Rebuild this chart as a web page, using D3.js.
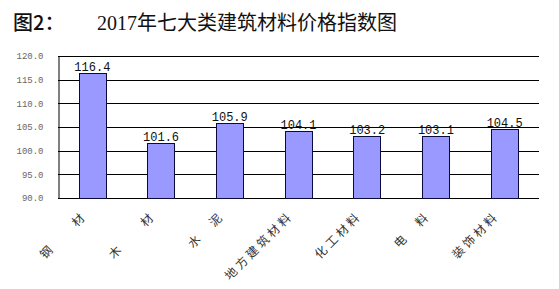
<!DOCTYPE html>
<html>
<head>
<meta charset="utf-8">
<script src="https://cdn.jsdelivr.net/npm/d3@7"></script>
<style>
  html, body { margin: 0; padding: 0; background: #fff; }
  svg { display: block; }
</style>
</head>
<body>
<svg id="chart" width="559" height="289"></svg>
<script>
// 2017 price indices of seven building-material groups
const categories = ["钢　　材", "木　　材", "水　泥", "地方建筑材料", "化工材料", "电　料", "装饰材料"];
const values = [116.4, 101.6, 105.9, 104.1, 103.2, 103.1, 104.5];
const yTicks = [90, 95, 100, 105, 110, 115, 120];
const figureLabel = "图2：";
const titleText = "2017年七大类建筑材料价格指数图";

const svg = d3.select("#chart");
const plot = { left: 58, right: 539, top: 56, bottom: 198 };

const x = d3.scaleBand()
  .domain(categories)
  .range([plot.left, plot.right])
  .paddingInner(0.6)
  .paddingOuter(0.3);

const y = d3.scaleLinear()
  .domain([90, 120])
  .range([plot.bottom, plot.top]);

// Title line
svg.append("text")
  .attr("x", 13).attr("y", 30)
  .attr("font-family", "'Noto Sans CJK SC', sans-serif")
  .attr("font-size", 20).attr("font-weight", 500)
  .attr("fill", "#111")
  .text(figureLabel);

svg.append("text")
  .attr("x", 97).attr("y", 30)
  .attr("font-family", "'Liberation Serif', 'Noto Sans CJK SC', serif")
  .attr("font-size", 20)
  .attr("fill", "#111")
  .text(titleText);

// Horizontal gridlines
svg.append("g")
  .selectAll("line")
  .data(yTicks)
  .join("line")
  .attr("x1", plot.left).attr("x2", plot.right)
  .attr("y1", d => Math.round(y(d)) + 0.5)
  .attr("y2", d => Math.round(y(d)) + 0.5)
  .attr("stroke", "#000").attr("stroke-width", 1);

// Y axis with tick labels
const yAxis = d3.axisLeft(y)
  .tickValues(yTicks)
  .tickSize(0)
  .tickPadding(15)
  .tickFormat(d3.format(".1f"));

const yG = svg.append("g")
  .attr("transform", `translate(${plot.left + 0.5},0)`)
  .call(yAxis);
yG.select(".domain").attr("stroke", "#000").attr("stroke-width", 1);
yG.selectAll("text")
  .attr("font-family", "'Liberation Mono', monospace")
  .attr("font-size", 9)
  .attr("fill", "#666");

// Bars
svg.append("g")
  .selectAll("rect")
  .data(values)
  .join("rect")
  .attr("x", (d, i) => Math.round(x(categories[i])) + 0.5)
  .attr("y", d => Math.round(y(d)) + 0.5)
  .attr("width", Math.round(x.bandwidth()))
  .attr("height", d => Math.round(y(90)) - Math.round(y(d)))
  .attr("fill", "#9999ff")
  .attr("stroke", "#0a0a3c")
  .attr("stroke-width", 1);

// Value labels above bars
svg.append("g")
  .selectAll("text")
  .data(values)
  .join("text")
  .attr("x", (d, i) => x(categories[i]) + x.bandwidth() / 2)
  .attr("y", d => y(d) - 2)
  .attr("text-anchor", "middle")
  .attr("font-family", "'Liberation Mono', monospace")
  .attr("font-size", 12)
  .attr("fill", "#111")
  .text(d => d3.format(".1f")(d));

// Rotated category labels
svg.append("g")
  .selectAll("text")
  .data(categories)
  .join("text")
  .attr("transform", d => `translate(${x(d) + x.bandwidth() / 2 - 5},217) rotate(-45)`)
  .attr("text-anchor", "end")
  .attr("font-family", "'Noto Sans CJK SC', sans-serif")
  .attr("font-size", 12)
  .attr("letter-spacing", 3)
  .attr("fill", "#333")
  .text(d => d);
</script>
</body>
</html>
